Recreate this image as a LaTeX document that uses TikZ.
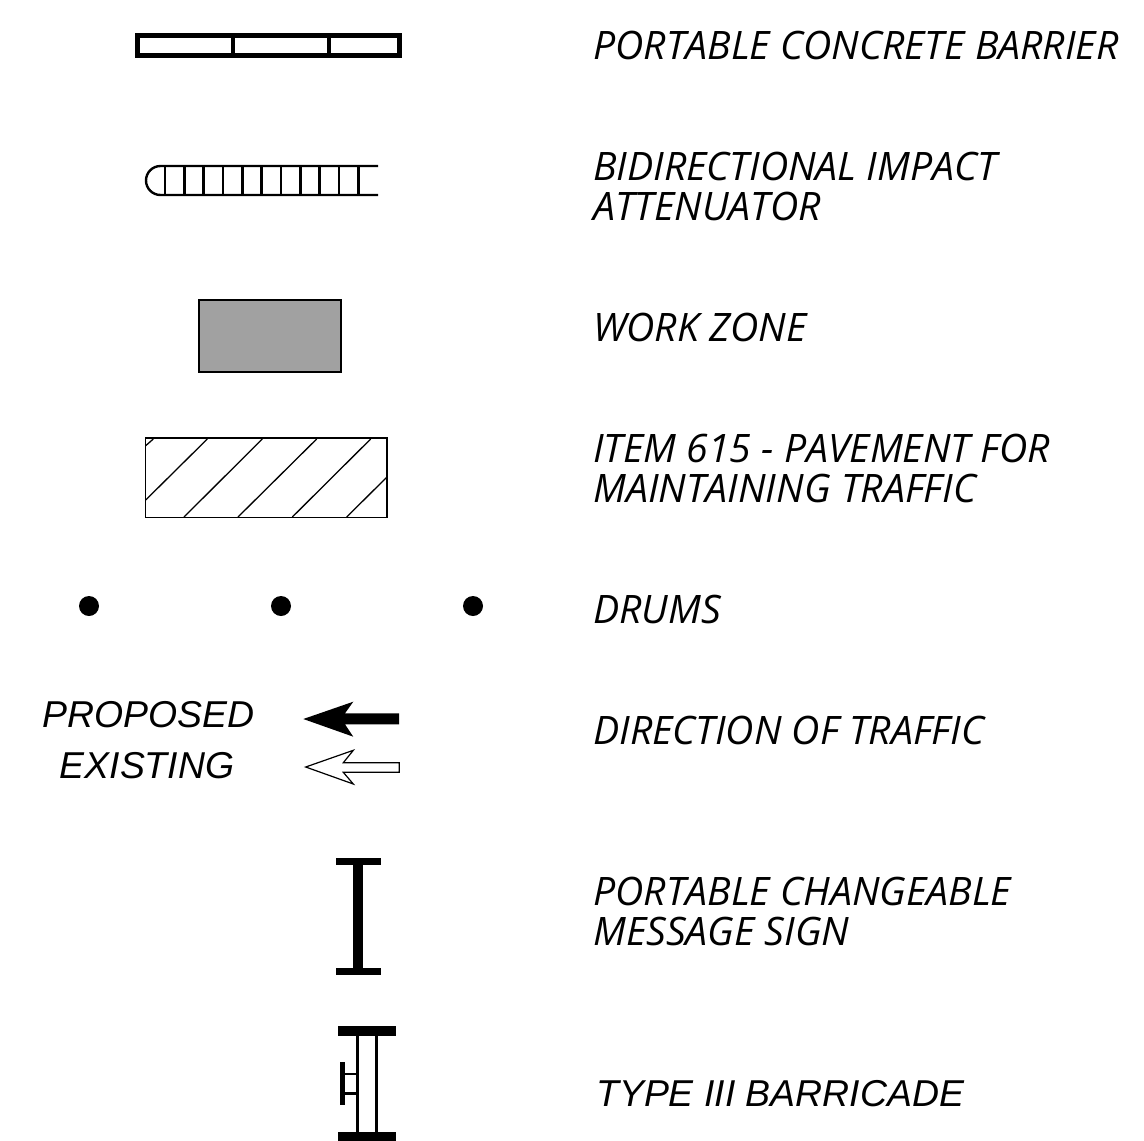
\documentclass[tikz,border=0pt]{standalone}
\usepackage{fontspec}
\setmainfont{Open Sans}
\newfontfamily\arialfont{Liberation Sans}
\usetikzlibrary{positioning}

\begin{document}
\begin{tikzpicture}[
        x=1pt, y=-1pt,
        % --- Styles ---
        legendtext/.style={anchor=west, align=left, inner sep=0pt, font=\fontsize{39.2}{40.3}\selectfont\itshape},
        arialtext/.style={anchor=base, inner sep=0pt, font=\fontsize{37.4}{40}\selectfont\arialfont\itshape},
        drum/.style={circle, fill=black, inner sep=0pt, minimum size=20pt},
        thickbar/.style={draw=none, fill=black},
        hatchline/.style={draw, line width=1.3pt},
        rung/.style={draw, line width=2.4pt}
    ]
        \useasboundingbox (0,0) rectangle (1144,1141);

        % --- Labels ---
        \node[legendtext] (barrierlabel) at (593,45.3) {PORTABLE CONCRETE BARRIER};
        \node[legendtext] (attenuatorlabel) at (593,186.5) {BIDIRECTIONAL IMPACT\\ATTENUATOR};
        \node[legendtext] (zonelabel) at (593,327.3) {WORK ZONE};
        \node[legendtext] (pavementlabel) at (593,468.5) {ITEM 615 - PAVEMENT FOR\\MAINTAINING TRAFFIC};
        \node[legendtext] (drumslabel) at (593,609.3) {DRUMS};
        \node[legendtext] (trafficlabel) at (593,730.3) {DIRECTION OF TRAFFIC};
        \node[legendtext] (signlabel) at (593,911.5) {PORTABLE CHANGEABLE\\MESSAGE SIGN};
        \node[arialtext, anchor=base west] (barricadelabel) at (596,1106.5) {TYPE III BARRICADE};
        \node[arialtext] (proposedlabel) at (148.5,727.5) {PROPOSED};
        \node[arialtext] (existinglabel) at (147,778.5) {EXISTING};

        % --- Concrete Barrier ---
        \draw[line width=5pt] (137.5,35.5) rectangle (399.5,55);
        \draw[line width=4.5pt] (233,33) -- (233,58);
        \draw[line width=4.5pt] (329,33) -- (329,58);

        % --- Impact Attenuator ---
        \draw[rung] (378,166) -- (160.5,166) arc[start angle=270, end angle=90, radius=14.5] -- (378,195);
        \foreach \x in {0,...,10}
            \draw[rung] (165+19.33*\x,166) -- (165+19.33*\x,195);

        % --- Work Zone ---
        \draw[line width=2pt, fill=black!37] (198.5,299.5) rectangle (340.5,371.5);

        % --- Pavement ---
        \draw[line width=1.6pt] (145.5,438) rectangle (387,517.5);
        \draw[hatchline] (145.7,445.7) -- (153.3,439);
        \draw[hatchline] (145.7,500) -- (207.3,439);
        \draw[hatchline] (184,517) -- (262.3,439);
        \draw[hatchline] (238,517) -- (316.7,439);
        \draw[hatchline] (292.3,517) -- (370.7,439);
        \draw[hatchline] (346.7,517) -- (386.7,477.3);

        % --- Drums ---
        \node[drum] (drumone) at (89,606) {};
        \node[drum] (drumtwo) at (281,606) {};
        \node[drum] (drumthree) at (473,606) {};

        % --- Traffic Arrows ---
        \fill (303.3,719) -- (353.3,701.7) -- (345,713.3) -- (399,713.3) -- (399,724.3) -- (345,724.3) -- (353.3,736.7) -- cycle;
        \draw[line width=1.2pt] (305.7,767) -- (353.3,750.3) -- (343.3,762.7) -- (399.3,762.7) -- (399.3,772.3) -- (343.3,772.3) -- (353.3,784) -- cycle;

        % --- Message Sign ---
        \fill[thickbar] (335.7,858.3) rectangle (381.3,865.3);
        \fill[thickbar] (335.7,967.7) rectangle (381.3,975);
        \fill[thickbar] (353.3,858.3) rectangle (363,975);

        % --- Barricade ---
        \fill[thickbar] (338.3,1026) rectangle (395.7,1035.7);
        \fill[thickbar] (338.3,1131.7) rectangle (395.7,1141);
        \draw[rung] (357.3,1035) -- (357.3,1132);
        \draw[rung] (376.3,1035) -- (376.3,1132);
        \fill[thickbar] (340,1061.7) rectangle (345,1105);
        \draw[rung] (345,1074) -- (357.3,1074);
        \draw[rung] (345,1093.3) -- (357.3,1093.3);
\end{tikzpicture}
\end{document}
